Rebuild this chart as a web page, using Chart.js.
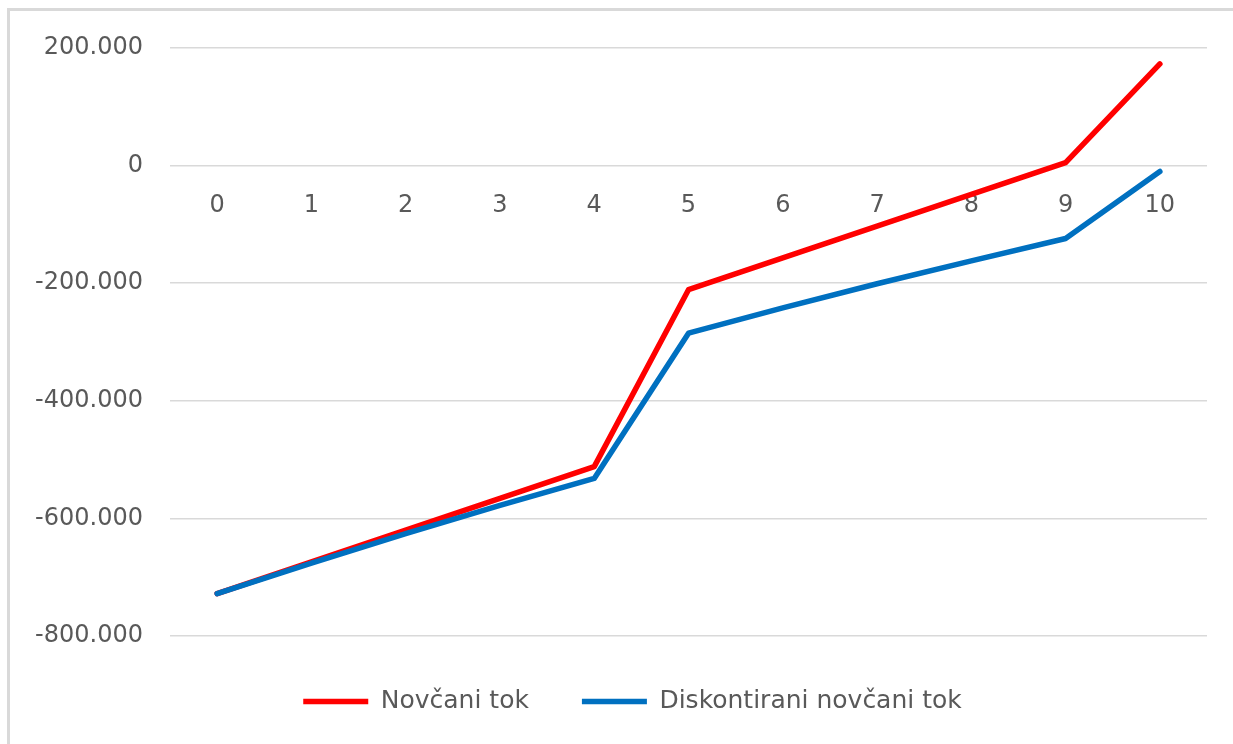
<!DOCTYPE html>
<html>
<head>
<meta charset="utf-8">
<title>Novčani tok</title>
<script src="https://cdn.jsdelivr.net/npm/chart.js@4.4.1/dist/chart.umd.min.js"></script>
<style>
    html, body {
        margin: 0;
        padding: 0;
        background: #ffffff;
        overflow: hidden;
    }
    #wrap {
        position: relative;
        width: 1233px;
        height: 744px;
        overflow: hidden;
    }
    #cashChart {
        position: absolute;
        left: 0;
        top: 0;
    }
    #frame {
        position: absolute;
        left: 7px;
        top: 8px;
        width: 1300px;
        height: 800px;
        border-left: 3px solid #d9d9d9;
        border-top: 3px solid #d9d9d9;
        pointer-events: none;
    }
</style>
</head>
<body>
<div id="wrap">
    <canvas id="cashChart" width="1233" height="744"></canvas>
    <div id="frame"></div>
</div>
<script>
const years = ['0', '1', '2', '3', '4', '5', '6', '7', '8', '9', '10'];
const cashFlow = [-728000, -674000, -620000, -566000, -512000, -211000, -157000, -103000, -49000, 5000, 173000];
const discountedFlow = [-728000, -676000, -626000, -578000, -532000, -285000, -242000, -201000, -162000, -124000, -10000];
const yTicks = [200000, 0, -200000, -400000, -600000, -800000];

const textColor = '#595959';
const gridColor = '#d9d9d9';

// 200000 -> "200.000"
function formatThousands(value) {
    const sign = value < 0 ? '-' : '';
    const digits = String(Math.abs(value));
    return sign + digits.replace(/\B(?=(\d{3})+(?!\d))/g, '.');
}

function drawChart() {
    const ctx = document.getElementById('cashChart');

    new Chart(ctx, {
        type: 'line',
        data: {
            labels: years,
            datasets: [
                {
                    label: 'Novčani tok',
                    data: cashFlow,
                    borderColor: '#ff0000',
                    backgroundColor: '#ff0000',
                    borderWidth: 5.5,
                    borderCapStyle: 'round',
                    borderJoinStyle: 'round',
                    pointRadius: 0,
                    tension: 0,
                    order: 1
                },
                {
                    label: 'Diskontirani novčani tok',
                    data: discountedFlow,
                    borderColor: '#0070c0',
                    backgroundColor: '#0070c0',
                    borderWidth: 5.5,
                    borderCapStyle: 'round',
                    borderJoinStyle: 'round',
                    pointRadius: 0,
                    tension: 0,
                    order: 0
                }
            ]
        },
        options: {
            responsive: false,
            animation: false,
            layout: {
                padding: { left: 58, right: 26, top: 48, bottom: 20 }
            },
            plugins: {
                tooltip: { enabled: false },
                legend: {
                    position: 'bottom',
                    labels: {
                        usePointStyle: true,
                        pointStyle: 'line',
                        pointStyleWidth: 65,
                        padding: 53,
                        color: textColor,
                        font: { family: 'DejaVu Sans', size: 25 },
                        sort: (a, b) => a.datasetIndex - b.datasetIndex
                    }
                }
            },
            scales: {
                x: {
                    position: { y: 0 },
                    offset: true,
                    grid: { display: false, drawTicks: false },
                    border: { display: false },
                    ticks: {
                        color: textColor,
                        padding: 26,
                        maxRotation: 0,
                        font: { family: 'DejaVu Sans', size: 24 }
                    }
                },
                y: {
                    min: -800000,
                    max: 200000,
                    afterFit: scale => {
                        scale.width = 112;
                        // labels are wider than the axis box, so don't clip them to it
                        scale._computeLabelArea = () => undefined;
                    },
                    afterBuildTicks: scale => {
                        scale.ticks = yTicks.map(v => ({ value: v }));
                    },
                    grid: {
                        color: gridColor,
                        lineWidth: 1.5,
                        drawTicks: false
                    },
                    border: { display: false },
                    ticks: {
                        color: textColor,
                        padding: 27,
                        font: { family: 'DejaVu Sans', size: 24 },
                        callback: value => formatThousands(value)
                    }
                }
            }
        }
    });
}

document.addEventListener('DOMContentLoaded', drawChart);
</script>
</body>
</html>
